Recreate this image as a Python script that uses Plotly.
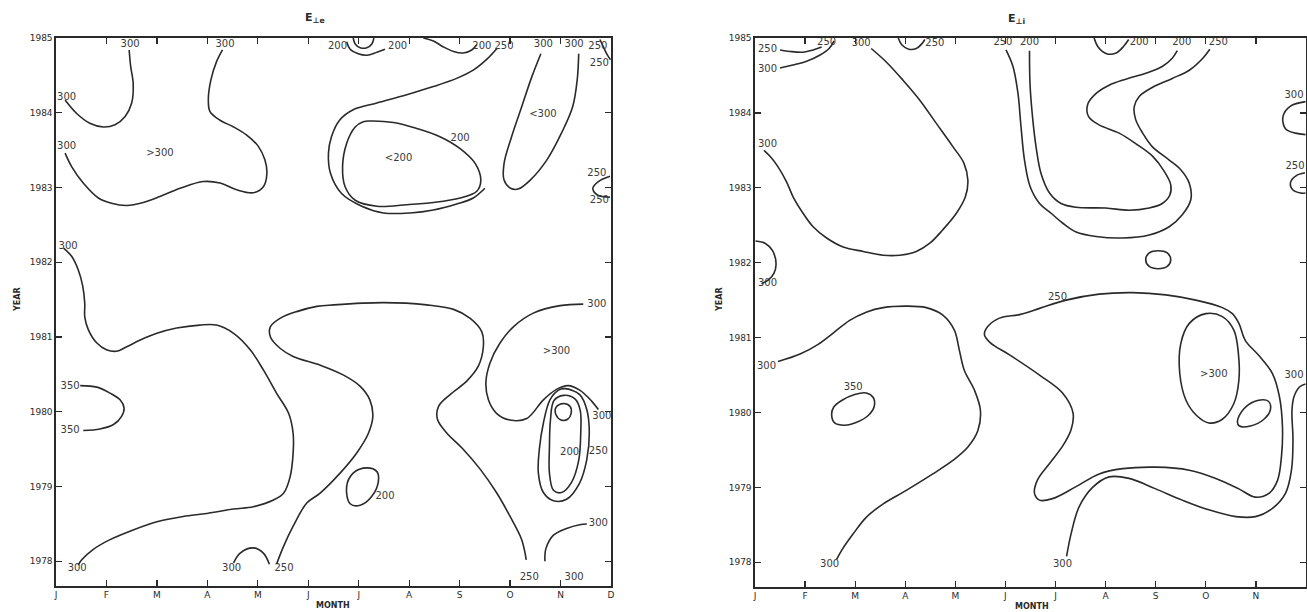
import plotly.graph_objects as go

# ---------------- axis values ----------------
month_ticks = ["J", "F", "M", "A", "M", "J", "J", "A", "S", "O", "N", "D"]
year_ticks = [1978, 1979, 1980, 1981, 1982, 1983, 1984, 1985]

# ---------------- E_perp,e panel : contour lines (month index, year) ----------------
le_300_a = [(0.18,1984.17),(0.41,1983.99),(0.67,1983.86),(0.94,1983.81),(1.17,1983.84),(1.37,1983.95),
            (1.50,1984.13),(1.53,1984.39),(1.48,1984.62),(1.45,1984.84)]
le_300_b = [(0.18,1983.46),(0.31,1983.28),(0.54,1983.06),(0.84,1982.86),(1.10,1982.79),(1.40,1982.76),
            (1.73,1982.80),(2.06,1982.88),(2.46,1982.99),(2.92,1983.08),(3.25,1983.06),(3.58,1982.97),
            (3.91,1982.93),(4.11,1983.01),(4.18,1983.19),(4.14,1983.37),(4.01,1983.55),(3.78,1983.70),
            (3.52,1983.81),(3.25,1983.90),(3.05,1984.02),(3.02,1984.19),(3.07,1984.44),(3.18,1984.68),
            (3.30,1984.84)]
le_300_c = [(0.15,1982.19),(0.31,1982.08),(0.44,1981.90),(0.53,1981.68),(0.57,1981.45),(0.57,1981.27),
            (0.64,1981.10),(0.81,1980.92),(1.00,1980.83),(1.20,1980.81),(1.40,1980.87),(1.67,1980.96),
            (2.00,1981.05),(2.39,1981.12),(2.85,1981.16),(3.18,1981.16),(3.52,1981.05),(3.85,1980.83),
            (4.11,1980.56),(4.37,1980.25),(4.61,1979.98),(4.70,1979.71),(4.70,1979.45),(4.64,1979.13),
            (4.51,1978.91),(4.31,1978.82),(3.91,1978.73),(3.52,1978.70),(2.99,1978.64),(2.52,1978.60),
            (2.00,1978.53),(1.53,1978.42),(1.07,1978.29),(0.74,1978.16),(0.51,1978.02),(0.44,1977.95)]
le_350 = [(0.48,1980.35),(0.81,1980.33),(1.07,1980.25),(1.27,1980.16),(1.35,1980.05),(1.30,1979.94),
          (1.14,1979.83),(0.87,1979.77),(0.54,1979.75)]
le_300_d = [(3.52,1977.98),(3.65,1978.11),(3.91,1978.18),(4.11,1978.11),(4.23,1977.96)]
le_250_a = [(4.37,1977.96),(4.51,1978.20),(4.70,1978.47),(4.97,1978.78),(5.23,1978.91),(5.63,1979.18),
            (5.96,1979.45),(6.19,1979.71),(6.28,1979.94),(6.22,1980.16),(6.03,1980.34),(5.70,1980.49),
            (5.25,1980.62),(4.70,1980.74),(4.44,1980.85),(4.25,1981.00),(4.25,1981.14),(4.44,1981.25),
            (4.77,1981.34),(5.17,1981.41),(5.50,1981.43),(6.49,1981.46),(7.35,1981.43),(7.88,1981.37),
            (8.21,1981.25),(8.44,1981.07),(8.47,1980.87),(8.37,1980.61),(8.14,1980.41),(7.81,1980.23),
            (7.58,1980.07),(7.56,1979.90),(7.74,1979.72),(8.07,1979.50),(8.41,1979.23),(8.73,1978.92),
            (9.00,1978.60),(9.23,1978.29),(9.32,1978.02)]
le_200_a = [(5.76,1979.00),(5.89,1979.18),(6.16,1979.25),(6.36,1979.20),(6.39,1979.07),(6.26,1978.87),
            (6.03,1978.75),(5.83,1978.77),(5.76,1979.00)]
le_300_e = [(10.45,1981.44),(9.99,1981.42),(9.46,1981.32),(9.07,1981.14),(8.80,1980.92),(8.60,1980.65),
            (8.52,1980.39),(8.57,1980.16),(8.73,1979.98),(9.00,1979.89),(9.33,1979.91),(9.66,1980.16),
            (9.92,1980.30),(10.15,1980.35),(10.38,1980.29),(10.62,1980.14),(10.75,1980.03)]
le_250_b = [(10.09,1980.31),(10.38,1980.23),(10.52,1980.03),(10.57,1979.72),(10.52,1979.36),(10.38,1979.05),
            (10.12,1978.83),(9.86,1978.81),(9.66,1978.92),(9.56,1979.18),(9.58,1979.50),(9.66,1979.85),
            (9.79,1980.16),(9.96,1980.29),(10.09,1980.31)]
le_200_b = [(10.06,1980.22),(10.29,1980.17),(10.39,1980.02),(10.40,1979.71),(10.36,1979.35),(10.22,1979.06),
            (10.02,1978.92),(9.86,1978.95),(9.78,1979.18),(9.78,1979.53),(9.80,1979.89),(9.87,1980.15),
            (10.06,1980.22)]
le_150_a = [(10.05,1980.11),(10.19,1980.07),(10.21,1979.98),(10.14,1979.90),(10.01,1979.89),(9.91,1979.96),
            (9.91,1980.06),(10.05,1980.11)]
le_300_f = [(9.69,1978.00),(9.71,1978.17),(9.86,1978.35),(10.12,1978.44),(10.38,1978.49),(10.52,1978.50)]
le_150_b = [(5.89,1985.00),(5.93,1984.92),(6.03,1984.87),(6.16,1984.87),(6.26,1984.92),(6.30,1985.00)]
le_200_c = [(5.76,1984.95),(5.83,1984.85),(5.99,1984.79),(6.16,1984.77),(6.36,1984.81),(6.52,1984.85)]
le_200_d = [(7.28,1985.00),(7.48,1984.96),(7.68,1984.88),(7.88,1984.82),(8.07,1984.80),(8.24,1984.84),
            (8.34,1984.91)]
le_250_c = [(8.74,1984.86),(8.53,1984.71),(8.27,1984.57),(7.94,1984.46),(7.48,1984.35),(6.95,1984.24),
            (6.36,1984.13),(5.89,1984.04),(5.62,1983.90),(5.46,1983.68),(5.40,1983.46),(5.44,1983.19),
            (5.66,1982.92),(6.06,1982.75),(6.49,1982.66),(7.02,1982.66),(7.48,1982.70),(7.94,1982.78),
            (8.27,1982.86),(8.50,1982.99)]
le_200_e = [(6.23,1983.89),(6.69,1983.87),(7.15,1983.79),(7.61,1983.68),(8.01,1983.52),(8.31,1983.32),
            (8.42,1983.10),(8.34,1982.95),(8.01,1982.86),(7.48,1982.80),(6.95,1982.77),(6.36,1982.75),
            (5.93,1982.83),(5.73,1983.01),(5.68,1983.28),(5.76,1983.59),(5.93,1983.81),(6.09,1983.88),
            (6.23,1983.89)]
le_300_g = [(9.61,1984.79),(9.43,1984.48),(9.23,1984.08),(9.03,1983.68),(8.88,1983.32),(8.88,1983.10),
            (9.01,1982.99),(9.16,1982.98),(9.40,1983.10),(9.73,1983.37),(10.02,1983.73),(10.24,1984.08),
            (10.33,1984.44),(10.36,1984.79)]
le_250_d = [(10.78,1984.98),(10.85,1984.88),(10.93,1984.77),(10.99,1984.71)]
le_250_e = [(10.98,1983.15),(10.75,1983.08),(10.64,1982.99),(10.73,1982.90),(10.98,1982.87)]

le_labels = [(0.21,1984.20,"300"),(1.47,1984.91,"300"),(3.35,1984.91,"300"),(2.06,1983.46,">300"),
             (0.21,1983.55,"300"),(0.24,1982.21,"300"),(0.42,1977.90,"300"),(0.28,1980.34,"350"),
             (0.28,1979.75,"350"),(3.48,1977.90,"300"),(4.52,1977.90,"250"),(9.38,1977.79,"250"),
             (10.27,1977.79,"300"),(6.52,1978.87,"200"),(10.72,1981.44,"300"),(10.82,1979.94,"300"),
             (9.92,1980.81,">300"),(10.75,1979.47,"250"),(10.18,1979.46,"200"),(10.75,1978.50,"300"),
             (6.06,1985.08,"150"),(5.58,1984.88,"200"),(6.77,1984.88,"200"),(8.44,1984.88,"200"),
             (8.88,1984.88,"250"),(8.01,1983.66,"200"),(6.79,1983.39,"<200"),(9.66,1984.91,"300"),
             (10.27,1984.91,"300"),(9.65,1983.98,"<300"),(10.74,1984.88,"250"),(10.77,1984.66,"250"),
             (10.72,1983.19,"250"),(10.77,1982.83,"250")]

# ---------------- E_perp,i panel ----------------
ri_250_a = [(0.50,1984.84),(0.70,1984.82),(0.96,1984.81),(1.16,1984.84),(1.33,1984.88)]
ri_300_a = [(0.50,1984.60),(0.76,1984.64),(1.03,1984.69),(1.29,1984.77),(1.48,1984.86),(1.58,1984.96)]
ri_300_b = [(2.32,1984.86),(2.62,1984.68),(2.95,1984.44),(3.29,1984.17),(3.62,1983.86),(3.95,1983.55),
            (4.17,1983.33),(4.25,1983.10),(4.20,1982.88),(4.02,1982.66),(3.75,1982.44),(3.49,1982.26),
            (3.22,1982.15),(2.89,1982.10),(2.56,1982.10),(2.16,1982.15),(1.76,1982.21),(1.43,1982.33),
            (1.16,1982.48),(0.96,1982.66),(0.76,1982.88),(0.63,1983.08),(0.46,1983.28),(0.30,1983.42),
            (0.18,1983.50)]
ri_250_b = [(2.86,1985.00),(2.93,1984.91),(3.07,1984.85),(3.22,1984.86),(3.34,1984.93),(3.39,1984.98)]
ri_300_c = [(0.01,1982.29),(0.20,1982.26),(0.35,1982.16),(0.42,1981.99),(0.38,1981.86),(0.27,1981.77),
            (0.13,1981.72)]
ri_250_c = [(5.01,1984.84),(5.15,1984.62),(5.25,1984.26),(5.31,1983.82),(5.38,1983.37),(5.49,1983.02),
            (5.68,1982.79),(5.91,1982.66),(6.14,1982.53),(6.41,1982.41),(6.81,1982.35),(7.34,1982.33),
            (7.87,1982.37),(8.27,1982.48),(8.53,1982.64),(8.70,1982.84),(8.67,1983.06),(8.50,1983.24),
            (8.27,1983.37),(7.93,1983.55),(7.74,1983.73),(7.60,1983.91),(7.57,1984.08),(7.67,1984.22),
            (7.93,1984.34),(8.33,1984.46),(8.67,1984.57),(8.94,1984.73),(9.08,1984.85)]
ri_200_a = [(5.48,1984.83),(5.49,1984.39),(5.54,1983.95),(5.61,1983.55),(5.71,1983.19),(5.88,1982.93),
            (6.11,1982.79),(6.41,1982.74),(7.00,1982.73),(7.47,1982.70),(7.87,1982.73),(8.13,1982.79),
            (8.28,1982.90),(8.30,1983.04),(8.17,1983.22),(7.94,1983.42),(7.60,1983.59),(7.27,1983.73),
            (6.87,1983.84),(6.66,1983.95),(6.64,1984.11),(6.81,1984.26),(7.07,1984.37),(7.40,1984.45),
            (7.80,1984.53),(8.13,1984.62),(8.33,1984.73),(8.43,1984.83)]
ri_200_b = [(6.77,1985.00),(6.85,1984.88),(7.02,1984.79),(7.21,1984.80),(7.36,1984.89),(7.46,1984.98)]
ri_200_c = [(8.30,1982.04),(8.23,1982.13),(8.05,1982.16),(7.87,1982.13),(7.80,1982.04),(7.87,1981.95),
            (8.05,1981.92),(8.23,1981.95),(8.30,1982.04)]
ri_300_d = [(10.99,1984.15),(10.69,1984.09),(10.54,1983.95),(10.59,1983.79),(10.79,1983.73),(10.99,1983.71)]
ri_250_d = [(10.98,1983.20),(10.80,1983.16),(10.69,1983.07),(10.74,1982.97),(10.89,1982.93),(10.99,1982.93)]
ri_250_e = [(4.58,1981.04),(4.65,1981.15),(4.88,1981.26),(5.30,1981.31),(5.68,1981.39),(6.21,1981.50),
            (6.87,1981.58),(7.54,1981.60),(8.20,1981.57),(8.80,1981.50),(9.33,1981.40),(9.53,1981.32),
            (9.66,1981.19),(9.79,1980.96),(10.06,1980.76),(10.33,1980.52),(10.47,1980.21),(10.53,1979.81),
            (10.51,1979.41),(10.43,1979.09),(10.26,1978.92),(9.99,1978.87),(9.66,1978.98),(9.20,1979.12),
            (8.67,1979.23),(8.00,1979.27),(7.34,1979.25),(6.87,1979.18),(6.41,1979.01),(5.94,1978.85),
            (5.68,1978.83),(5.58,1978.92),(5.64,1979.10),(5.88,1979.32),(6.14,1979.55),(6.31,1979.77),
            (6.35,1979.99),(6.14,1980.26),(5.68,1980.50),(5.08,1980.77),(4.70,1980.93),(4.58,1981.04)]
ri_300_e = [(9.00,1981.32),(9.33,1981.28),(9.56,1981.10),(9.65,1980.79),(9.66,1980.43),(9.56,1980.12),
            (9.33,1979.91),(9.06,1979.86),(8.80,1979.97),(8.60,1980.17),(8.48,1980.52),(8.50,1980.92),
            (8.67,1981.19),(9.00,1981.32)]
ri_300_f = [(9.63,1979.88),(9.76,1980.05),(10.03,1980.16),(10.25,1980.15),(10.29,1980.04),(10.16,1979.91),
            (9.89,1979.82),(9.67,1979.82),(9.63,1979.88)]
ri_300_g = [(6.22,1978.08),(6.31,1978.38),(6.47,1978.74),(6.74,1979.00),(7.07,1979.14),(7.47,1979.12),
            (8.00,1978.98),(8.53,1978.83),(9.06,1978.70),(9.60,1978.61),(9.99,1978.61),(10.33,1978.72),
            (10.59,1978.92),(10.71,1979.23),(10.74,1979.63),(10.72,1980.03),(10.76,1980.21),(10.87,1980.34),
            (10.99,1980.38)]
ri_300_h = [(0.46,1980.68),(0.90,1980.78),(1.26,1980.91),(1.56,1981.06),(1.89,1981.23),(2.22,1981.34),
            (2.56,1981.40),(3.02,1981.42),(3.42,1981.40),(3.75,1981.30),(3.98,1981.10),(4.08,1980.83),
            (4.18,1980.56),(4.38,1980.30),(4.50,1980.03),(4.45,1979.76),(4.25,1979.54),(3.95,1979.36),
            (3.55,1979.18),(3.02,1978.96),(2.56,1978.78),(2.22,1978.60),(1.96,1978.38),(1.73,1978.16),
            (1.63,1978.04)]
ri_350 = [(1.53,1979.97),(1.57,1980.07),(1.73,1980.16),(1.99,1980.24),(2.22,1980.26),(2.36,1980.20),
          (2.38,1980.08),(2.26,1979.96),(2.03,1979.87),(1.79,1979.83),(1.59,1979.86),(1.53,1979.97)]

ri_labels = [(0.25,1984.85,"250"),(1.43,1984.94,"250"),(0.25,1984.58,"300"),(2.12,1984.93,"300"),
             (3.59,1984.93,"250"),(0.25,1983.58,"300"),(0.25,1981.72,"300"),(4.95,1984.94,"250"),
             (5.48,1984.94,"200"),(7.67,1984.94,"200"),(8.52,1984.94,"200"),(9.25,1984.94,"250"),
             (10.76,1984.23,"300"),(10.78,1983.29,"250"),(6.04,1981.53,"250"),(9.16,1980.51,">300"),
             (10.76,1980.50,"300"),(1.96,1980.33,"350"),(0.23,1980.61,"300"),(1.49,1977.97,"300"),
             (6.14,1977.97,"300")]

left_lines = [le_300_a, le_300_b, le_300_c, le_350, le_300_d, le_250_a, le_200_a, le_300_e, le_250_b,
              le_200_b, le_150_a, le_300_f, le_150_b, le_200_c, le_200_d, le_250_c, le_200_e, le_300_g,
              le_250_d, le_250_e]
right_lines = [ri_250_a, ri_300_a, ri_300_b, ri_250_b, ri_300_c, ri_250_c, ri_200_a, ri_200_b, ri_200_c,
               ri_300_d, ri_250_d, ri_250_e, ri_300_e, ri_300_f, ri_300_g, ri_300_h, ri_350]

INK = "#2a2a2a"
FONT = "DejaVu Sans"

fig = go.Figure()
for lines, xa, ya in [(left_lines, "x", "y"), (right_lines, "x2", "y2")]:
    for pts in lines:
        fig.add_trace(go.Scatter(x=[p[0] for p in pts], y=[p[1] for p in pts], mode="lines",
                                 line=dict(color=INK, width=1.6, shape="spline", smoothing=1.0),
                                 xaxis=xa, yaxis=ya, hoverinfo="skip", showlegend=False))
for labels, xa, ya in [(le_labels, "x", "y"), (ri_labels, "x2", "y2")]:
    fig.add_trace(go.Scatter(x=[l[0] for l in labels], y=[l[1] for l in labels], text=[l[2] for l in labels],
                             mode="text", textfont=dict(family=FONT, size=10, color="#3a3a3a"),
                             xaxis=xa, yaxis=ya, hoverinfo="skip", showlegend=False, cliponaxis=False))

W, H = 1307, 612
common_x = dict(range=[0, 11], tickmode="array", tickvals=list(range(12)), ticktext=month_ticks,
                ticks="inside", ticklen=6, tickwidth=1.3, tickcolor=INK, showline=True, linecolor=INK,
                linewidth=1.6, mirror="ticks", showgrid=False, zeroline=False, automargin=False,
                tickfont=dict(family=FONT, size=9, color=INK), fixedrange=True)
common_y = dict(range=[1977.67, 1985], tickmode="array", tickvals=year_ticks,
                ticktext=[str(v) for v in year_ticks],
                ticks="inside", ticklen=6, tickwidth=1.3, tickcolor=INK, showline=True, linecolor=INK,
                linewidth=1.6, mirror="ticks", showgrid=False, zeroline=False, automargin=False,
                tickfont=dict(family=FONT, size=9, color=INK), fixedrange=True)

fig.update_layout(
    width=W, height=H, margin=dict(l=0, r=0, t=0, b=0),
    paper_bgcolor="white", plot_bgcolor="white", template="none",
    xaxis=dict(common_x, domain=[56 / W, 611 / W], anchor="y"),
    yaxis=dict(common_y, domain=[26 / H, 574 / H], anchor="x"),
    xaxis2=dict(common_x, domain=[755 / W, 1306 / W], anchor="y2"),
    yaxis2=dict(common_y, domain=[25 / H, 574 / H], anchor="x2"),
)

annos = [
    dict(x=315 / W, y=1 - 18 / H, text="<b>E<sub>⊥e</sub></b>", size=11),
    dict(x=1016 / W, y=1 - 19 / H, text="<b>E<sub>⊥i</sub></b>", size=11),
    dict(x=333 / W, y=1 - 605 / H, text="<b>MONTH</b>", size=8),
    dict(x=1032 / W, y=1 - 606 / H, text="<b>MONTH</b>", size=8),
]
for a in annos:
    fig.add_annotation(x=a["x"], y=a["y"], xref="paper", yref="paper", text=a["text"], showarrow=False,
                       font=dict(family=FONT, size=a["size"], color=INK), xanchor="center", yanchor="middle")
for xp in [17, 719]:
    fig.add_annotation(x=xp / W, y=1 - 300 / H, xref="paper", yref="paper", text="<b>YEAR</b>",
                       textangle=-90, showarrow=False, font=dict(family=FONT, size=8, color=INK),
                       xanchor="center", yanchor="middle")

fig.write_html("out.html", config={"displayModeBar": False, "staticPlot": True},
               post_script="document.body.style.margin='0';document.body.style.padding='0';"
                           "document.body.style.overflow='hidden';")
